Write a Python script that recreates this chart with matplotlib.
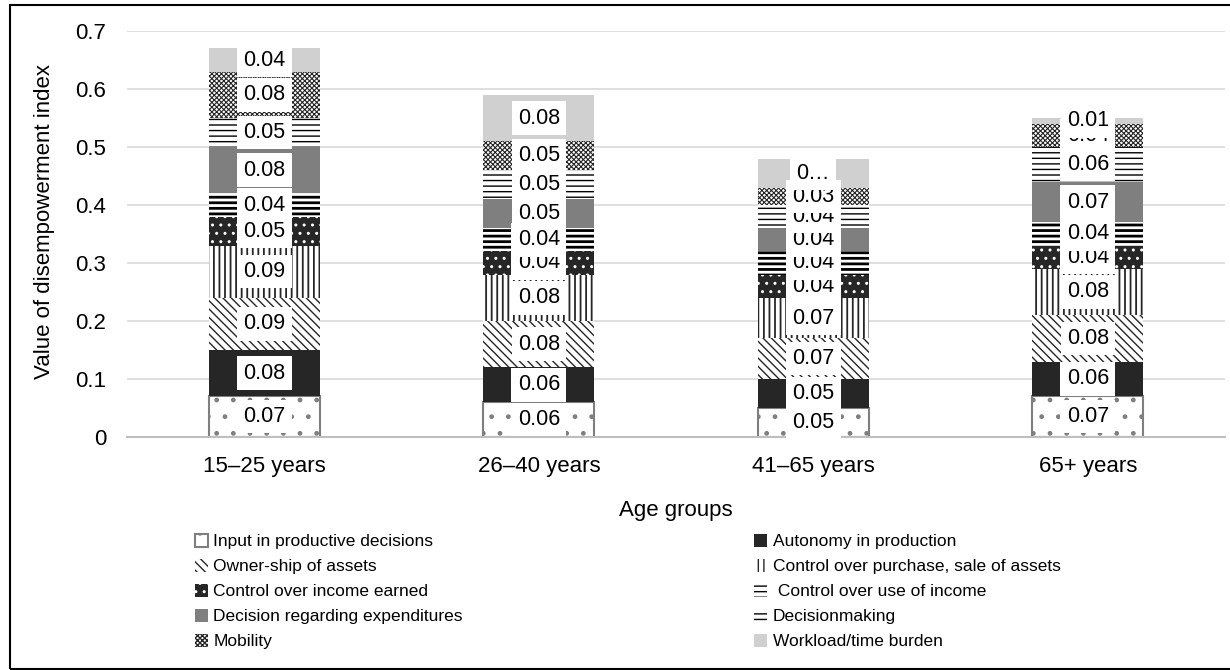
import matplotlib
matplotlib.use("Agg")
import matplotlib.pyplot as plt
import matplotlib.patches as mpatches
import numpy as np

plt.rcParams['font.family'] = ['Liberation Sans', 'DejaVu Sans']

age_groups = ["15\u201325 years", "26\u201340 years", "41\u201365 years", "65+ years"]

input_decisions = [0.07, 0.06, 0.05, 0.07]
autonomy = [0.08, 0.06, 0.05, 0.06]
ownership = [0.09, 0.08, 0.07, 0.08]
purchase_sale = [0.09, 0.08, 0.07, 0.08]
income_earned = [0.05, 0.04, 0.04, 0.04]
use_of_income = [0.04, 0.04, 0.04, 0.04]
expenditures = [0.08, 0.05, 0.04, 0.07]
decisionmaking = [0.05, 0.05, 0.04, 0.06]
mobility = [0.08, 0.05, 0.03, 0.04]
workload = [0.04, 0.08, 0.05, 0.01]

series_names = [
    "Input in productive decisions",
    "Autonomy in production",
    "Owner-ship of assets",
    "Control over purchase, sale of assets",
    "Control over income earned",
    " Control over use of income",
    "Decision regarding expenditures",
    "Decisionmaking",
    "Mobility",
    "Workload/time burden",
]

# label that does not fit in its box gets cut short
short_labels = {(9, 2): "0\u2026"}

# (facecolor, edge/hatch colour, hatch, hatch linewidth, edge linewidth)
styles = [
    ("white", "#7f7f7f", ".", 1.0, 1.5),
    ("#262626", "#262626", "", 1.0, 0),
    ("white", "#262626", "\\\\\\\\", 1.0, 0),
    ("white", "#262626", "|||", 1.3, 0),
    ("#262626", "white", "..", 1.0, 0),
    ("white", "black", "---", 2.0, 0),
    ("#7f7f7f", "#7f7f7f", "", 1.0, 0),
    ("white", "black", "---", 1.0, 0),
    ("white", "#262626", "xxxxxxx", 0.8, 0),
    ("#d0d0d0", "#d0d0d0", "", 1.0, 0),
]

data = [input_decisions, autonomy, ownership, purchase_sale, income_earned,
        use_of_income, expenditures, decisionmaking, mobility, workload]

fig = plt.figure(figsize=(12.3, 6.7), dpi=100)
ax = fig.add_axes([0.1033, 0.3478, 0.8927, 0.6059])

x = np.arange(len(age_groups))
width = 0.405
bottom = np.zeros(len(age_groups))
handles = []

for i, (name, vals) in enumerate(zip(series_names, data)):
    face, hcol, hatch, hlw, elw = styles[i]
    with plt.rc_context({'hatch.linewidth': hlw}):
        bars = ax.bar(x, vals, width, bottom=bottom, color=face, edgecolor=hcol,
                      hatch=hatch if hatch else None, linewidth=elw, label=name, zorder=2)
    for b in bars:
        if hasattr(b, "set_hatch_linewidth"):
            b.set_hatch_linewidth(hlw)
    handles.append(bars)
    bottom = bottom + np.array(vals)

# data labels, drawn series by series so the upper ones sit on top
bottom = np.zeros(len(age_groups))
for i, vals in enumerate(data):
    for j, v in enumerate(vals):
        txt = short_labels.get((i, j), f"{v:.2f}")
        ax.text(x[j], bottom[j] + v / 2, txt, ha="center", va="center",
                fontsize=15.5, zorder=5,
                bbox=dict(facecolor="white", edgecolor="none", pad=4.5))
    bottom = bottom + np.array(vals)

ax.set_xlim(-0.5, 3.5)
ax.set_ylim(0, 0.7)
ax.set_yticks(np.arange(0, 0.71, 0.1))
ax.set_yticklabels(["0", "0.1", "0.2", "0.3", "0.4", "0.5", "0.6", "0.7"])
ax.set_xticks(x)
ax.set_xticklabels(age_groups)
ax.tick_params(axis="y", length=0, pad=15, labelsize=16)
ax.tick_params(axis="x", length=0, pad=14, labelsize=16)
ax.grid(axis="y", color="#d9d9d9", linewidth=1.2, zorder=0)
ax.set_axisbelow(True)
for side in ["left", "right", "top"]:
    ax.spines[side].set_visible(False)
ax.spines["bottom"].set_color("#bfbfbf")
ax.spines["bottom"].set_linewidth(1.5)

ax.set_ylabel("Value of disempowerment index", fontsize=16)
ax.yaxis.set_label_coords(-0.066, 0.53)
ax.set_xlabel("Age groups", fontsize=16, labelpad=16)

# legend reads across rows, two entries per row
order = [0, 2, 4, 6, 8, 1, 3, 5, 7, 9]
fig.legend([handles[k] for k in order], [series_names[k] for k in order],
           ncol=2, loc="upper left", bbox_to_anchor=(195 / 1230, 1 - 534 / 670),
           frameon=False, fontsize=12.5, handlelength=0.75, handleheight=0.75,
           handletextpad=0.3, labelspacing=0.55, columnspacing=16.8,
           borderpad=0, borderaxespad=0)

# frame round the whole chart
fig.patches.append(mpatches.Rectangle((10 / 1230, 1 / 670), 1.0, 1 - 6 / 670,
                                      transform=fig.transFigure, fill=False,
                                      edgecolor="black", linewidth=1.5))

plt.savefig("out.png", dpi=100)
